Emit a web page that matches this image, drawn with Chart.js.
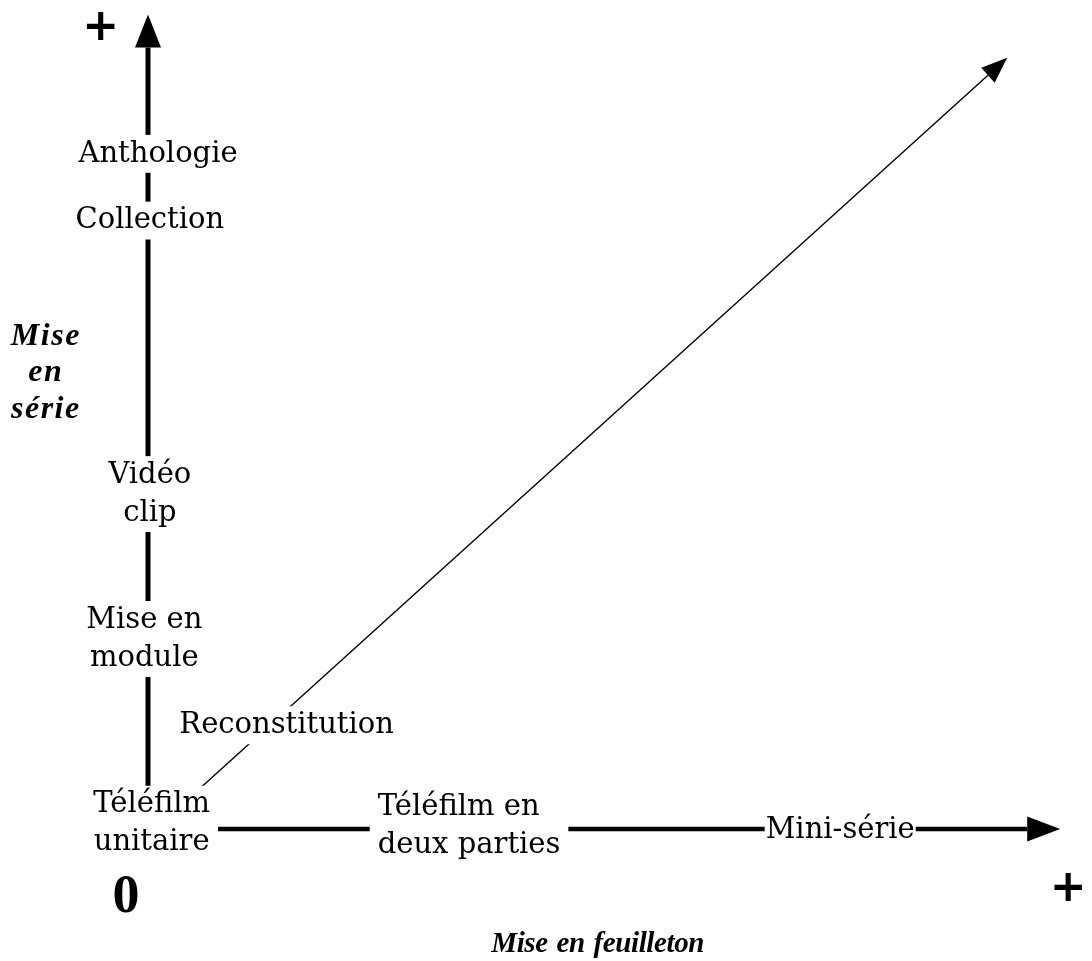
<!DOCTYPE html>
<html lang="fr">
<head>
<meta charset="UTF-8">
<title>Mise en série / mise en feuilleton</title>
<style>
  html, body { margin: 0; padding: 0; background: #ffffff; }
  .schema-box { width: 1092px; height: 961px; position: relative; }
</style>
</head>
<body>
<div class="schema-box"><canvas id="schema"></canvas></div>

<script src="https://cdn.jsdelivr.net/npm/chart.js"></script>
<script>
// Axes du schéma (unités arbitraires, origine = téléfilm unitaire)
const axeSerie = [{x: 0, y: 0}, {x: 0, y: 9.6}];
const axeFeuilleton = [{x: 0, y: 0}, {x: 9.64, y: 0}];
const diagonale = [{x: 0.55, y: 0.48}, {x: 9.21, y: 9.26}];

// Genres placés sur les axes
const genres = ['Anthologie', 'Collection', 'Vidéo\nclip', 'Mise en\nmodule', 'Reconstitution',
  'Téléfilm\nunitaire', 'Téléfilm en\ndeux parties', 'Mini-série'];
const genresX = [0.11, 0.02, 0.02, -0.04, 1.52, 0.04, 3.52, 7.59];
const genresY = [8.33, 7.51, 4.15, 2.37, 1.31, 0.10, 0.07, 0.02];

// Titres des axes
const titres = ['Mise\nen\nsérie', 'Mise en feuilleton'];
const titresX = [-1.12, 4.93];
const titresY = [5.63, -1.39];

// Repères 0 et +
const reperes = ['+', '0', '+'];
const reperesX = [-0.52, -0.24, 10.09];
const reperesY = [9.86, -0.79, -0.71];

const styleGenre = { font: '29px "DejaVu Serif"', taille: 29, demiCap: 0.365, interligne: 38, fond: true, padX: 8, padY: 4 };
const styleTitre = { font: 'italic bold 32px "Liberation Serif"', taille: 32, demiCap: 0.33, interligne: 36.5, espacement: '1.5px' };
const styleTitreBas = { font: 'italic bold 29px "Liberation Serif"', taille: 29, demiCap: 0.33, interligne: 36, espacement: '-0.4px', mots: '2px' };
const styleZero = { font: 'bold 54px "Liberation Serif"', taille: 54, demiCap: 0.34, interligne: 54 };
const stylePlus = { font: 'bold 44px "DejaVu Sans"', taille: 44, demiCap: 0.32, interligne: 44 };

function dessinerTexte(ctx, texte, px, py, st, gauche) {
  ctx.save();
  ctx.font = st.font;
  ctx.letterSpacing = st.espacement || '0px';
  ctx.wordSpacing = st.mots || '0px';
  const lignes = texte.split('\n');
  const largeurs = lignes.map(l => ctx.measureText(l).width);
  const maxL = Math.max(...largeurs);
  const n = lignes.length;
  const base0 = py + st.taille * st.demiCap - (n - 1) * st.interligne / 2;
  if (st.fond) {
    const haut = base0 - st.taille * 0.78 - st.padY;
    const bas = base0 + (n - 1) * st.interligne + st.taille * 0.25 + st.padY;
    ctx.fillStyle = '#ffffff';
    ctx.fillRect(px - maxL / 2 - st.padX, haut, maxL + 2 * st.padX, bas - haut);
  }
  ctx.fillStyle = '#000000';
  ctx.textAlign = 'left';
  ctx.textBaseline = 'alphabetic';
  lignes.forEach((l, i) => {
    const x = gauche ? px - maxL / 2 : px - largeurs[i] / 2;
    ctx.fillText(l, x, base0 + i * st.interligne);
  });
  ctx.restore();
}

// Pointes de flèche au bout des axes
const flechesPlugin = {
  id: 'fleches',
  afterDatasetsDraw(chart) {
    const ctx = chart.ctx;
    chart.data.datasets.forEach((ds, i) => {
      if (!ds.fleche) return;
      const pts = chart.getDatasetMeta(i).data;
      const a = pts[pts.length - 2], b = pts[pts.length - 1];
      const ang = Math.atan2(b.y - a.y, b.x - a.x);
      const L = ds.fleche.longueur, W = ds.fleche.largeur;
      ctx.save();
      ctx.translate(b.x, b.y);
      ctx.rotate(ang);
      ctx.beginPath();
      ctx.moveTo(L, 0);
      ctx.lineTo(0, -W / 2);
      ctx.lineTo(0, W / 2);
      ctx.closePath();
      ctx.fillStyle = '#000000';
      ctx.fill();
      ctx.restore();
    });
  }
};

// Étiquettes (avec fond blanc qui coupe les axes)
const etiquettesPlugin = {
  id: 'etiquettes',
  afterDraw(chart) {
    const ctx = chart.ctx;
    const sx = chart.scales.x, sy = chart.scales.y;
    genres.forEach((g, i) => {
      const gauche = g.startsWith('Téléfilm en');
      const st = g === 'Mini-série' ? Object.assign({}, styleGenre, { padX: 1 }) : styleGenre;
      dessinerTexte(ctx, g, sx.getPixelForValue(genresX[i]), sy.getPixelForValue(genresY[i]), st, gauche);
    });
    titres.forEach((t, i) => {
      const st = i === 0 ? styleTitre : styleTitreBas;
      dessinerTexte(ctx, t, sx.getPixelForValue(titresX[i]), sy.getPixelForValue(titresY[i]), st, false);
    });
    reperes.forEach((r, i) => {
      const st = r === '+' ? stylePlus : styleZero;
      dessinerTexte(ctx, r, sx.getPixelForValue(reperesX[i]), sy.getPixelForValue(reperesY[i]), st, false);
    });
  }
};

new Chart(document.getElementById('schema'), {
  type: 'scatter',
  data: {
    datasets: [
      { data: axeSerie, showLine: true, borderColor: '#000', borderWidth: 5, pointRadius: 0, clip: false,
        fleche: { longueur: 33, largeur: 26 } },
      { data: axeFeuilleton, showLine: true, borderColor: '#000', borderWidth: 4.5, pointRadius: 0, clip: false,
        fleche: { longueur: 33, largeur: 25 } },
      { data: diagonale, showLine: true, borderColor: '#000', borderWidth: 1.4, pointRadius: 0, clip: false,
        fleche: { longueur: 26, largeur: 20 } }
    ]
  },
  options: {
    responsive: true,
    maintainAspectRatio: false,
    animation: false,
    layout: { padding: { left: 148, right: 32, top: 15, bottom: 132 } },
    scales: {
      x: { type: 'linear', min: 0, max: 10, display: false },
      y: { type: 'linear', min: 0, max: 10, display: false }
    },
    plugins: { legend: { display: false }, tooltip: { enabled: false } }
  },
  plugins: [flechesPlugin, etiquettesPlugin]
});
</script>
</body>
</html>
